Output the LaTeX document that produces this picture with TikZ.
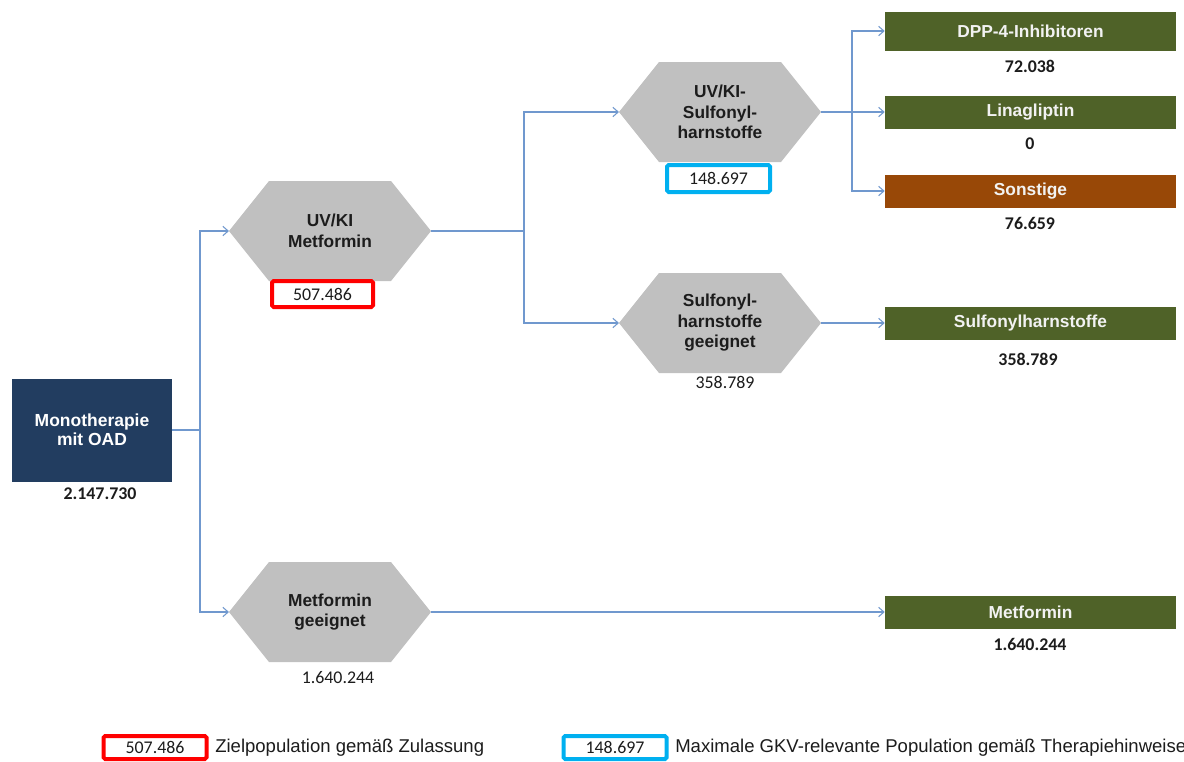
\documentclass[tikz,border=0pt]{standalone}
\usepackage{fontspec}
\setmainfont{Liberation Sans}
\newfontfamily\numfont{Carlito}
\usetikzlibrary{arrows.meta}

\definecolor{navybox}{HTML}{223D60}
\definecolor{leafgreen}{HTML}{4F6228}
\definecolor{leaforange}{HTML}{984807}
\definecolor{hexgray}{HTML}{C0C0C0}
\definecolor{linkblue}{HTML}{7098CE}
\definecolor{markred}{HTML}{FF0000}
\definecolor{markcyan}{HTML}{00B0F0}
\definecolor{inkdark}{HTML}{1C1C1C}

% hexagon: name, centre x, centre y, label
\newcommand\hexstage[4]{%
  \fill[hexgray] (#2-101,#3) -- (#2-61,#3-50) -- (#2+61,#3-50) -- (#2+101,#3)
     -- (#2+61,#3+50) -- (#2-61,#3+50) -- cycle;
  \coordinate (#1-w) at (#2-101,#3);
  \coordinate (#1-e) at (#2+101,#3);
  \node[hexlabel] (#1) at (#2,#3) {#4};}

\begin{document}
\begin{tikzpicture}[x=0.75pt,y=-0.75pt,
  conn/.style={draw=linkblue, line width=0.85pt},
  arr/.style={conn, -{Straight Barb[length=4pt,width=7pt,line width=0.8pt]}},
  hexlabel/.style={align=center, text=inkdark,
    font=\fontsize{13}{15.4}\selectfont\bfseries},
  startbox/.style={fill=navybox, text=white, align=center, inner sep=0pt,
    minimum width=120pt, minimum height=77.25pt,
    font=\fontsize{13.1}{14.4}\selectfont\bfseries},
  leaf/.style={fill=leafgreen, text=white!95!black, inner sep=0pt,
    minimum width=218.25pt, minimum height=24.75pt,
    font=\fontsize{13}{14}\selectfont\bfseries},
  numb/.style={text=inkdark, font=\numfont\fontsize{13.4}{15}\selectfont\bfseries},
  numr/.style={text=inkdark, font=\numfont\fontsize{13.4}{15}\selectfont},
  markbox/.style={line width=3pt, fill=white, inner sep=0pt, rounded corners=1.2pt,
    text=inkdark, font=\numfont\fontsize{13.4}{15}\selectfont},
  legtext/.style={anchor=west, text=inkdark, inner sep=0pt,
    font=\fontsize{13.9}{16}\selectfont}
]
\useasboundingbox (0,0) rectangle (1184,761);
\fill[white] (0,0) rectangle (1184,761);

% starting population
\node[startbox] (mono) at (92,430) {Monotherapie\\mit OAD};
\node[numb] (monon) at (100,494) {2.147.730};

% decision stages
\hexstage{hmet}{330}{231}{UV/KI\\Metformin}
\hexstage{huvsu}{720}{112}{UV/KI-\\Sulfonyl-\\harnstoffe}
\hexstage{hsu}{720}{323}{Sulfonyl-\\harnstoffe\\geeignet}
\hexstage{hmetg}{330}{612}{Metformin\\geeignet}

\node[markbox, draw=markred, minimum width=75.75pt, minimum height=19.5pt]
  (boxmet) at (322.5,294) {507.486};
\node[markbox, draw=markcyan, minimum width=77.25pt, minimum height=20.25pt]
  (boxuvsu) at (718.5,178.5) {148.697};
\node[numr] (hsun) at (725,382) {358.789};
\node[numr] (hmetgn) at (338,678) {1.640.244};

% therapy options
\node[leaf, minimum height=29.25pt] (dpp) at (1030.5,31) {DPP-4-Inhibitoren};
\node[leaf] (lina) at (1030.5,112) {Linagliptin};
\node[leaf, fill=leaforange] (sonst) at (1030.5,191) {Sonstige};
\node[leaf] (sulf) at (1030.5,323) {Sulfonylharnstoffe};
\node[leaf] (metf) at (1030.5,612) {Metformin};

\node[numb] (dppn) at (1030,66) {72.038};
\node[numb] (linan) at (1030,144) {0};
\node[numb] (sonstn) at (1030,223) {76.659};
\node[numb] (sulfn) at (1028,359) {358.789};
\node[numb] (metfn) at (1030,644) {1.640.244};

% connectors
\coordinate (j1) at (200,430);
\coordinate (j2) at (524,231);
\coordinate (j3) at (852,112);

\draw[conn] (mono.east) -- (j1);
\draw[arr] (j1) |- (hmet-w);
\draw[arr] (j1) |- (hmetg-w);

\draw[conn] (hmet-e) -- (j2);
\draw[arr] (j2) |- (huvsu-w);
\draw[arr] (j2) |- (hsu-w);

\draw[conn] (huvsu-e) -- (j3);
\draw[arr] (j3) |- (dpp.west);
\draw[arr] (j3) -- (lina.west);
\draw[arr] (j3) |- (sonst.west);

\draw[arr] (hsu-e) -- (sulf.west);
\draw[arr] (hmetg-e) -- (metf.west);

% legend
\node[markbox, draw=markred, minimum width=77.25pt, minimum height=17.25pt]
  (legred) at (155,747.5) {507.486};
\node[legtext] (legredt) at (215,748) {Zielpopulation gemäß Zulassung};
\node[markbox, draw=markcyan, minimum width=77.25pt, minimum height=17.25pt]
  (legcyan) at (615,747.5) {148.697};
\node[legtext] (legcyant) at (675,748) {Maximale GKV-relevante Population gemäß Therapiehinweise};
\end{tikzpicture}
\end{document}
